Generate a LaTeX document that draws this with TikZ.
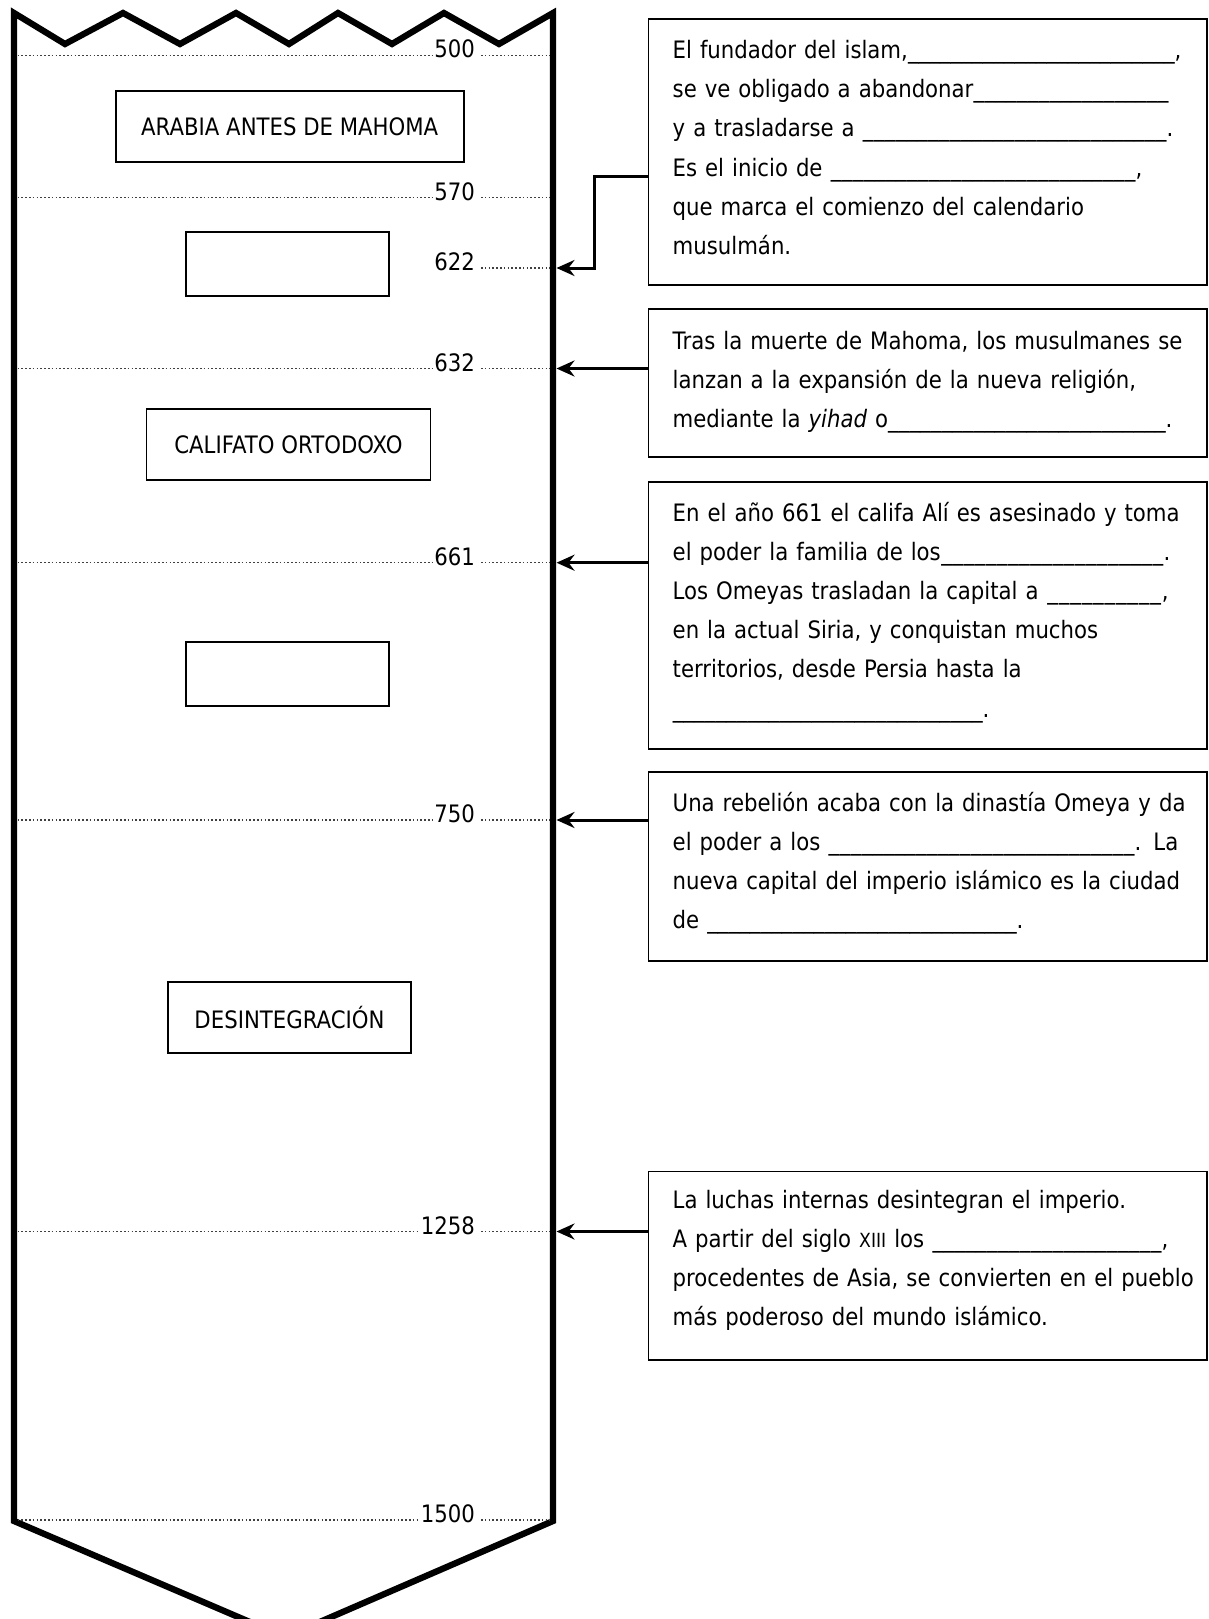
\documentclass[tikz,border=0pt]{standalone}
\usepackage{fontspec}
\setmainfont{DejaVu Sans}[FakeStretch=0.885]
\usetikzlibrary{arrows.meta}
\newcommand\fillto[2]{\makebox[#1][l]{#2\xleaders\hbox{\_}\hfill}}
\begin{document}
\begin{tikzpicture}[x=1pt,y=-1pt,
  border/.style={line width=6.3pt,line join=miter},
  dotline/.style={line width=1.2pt,black!75,dash pattern=on 1.6pt off 2.2pt},
  yr/.style={anchor=base east,inner xsep=2pt,inner ysep=0pt,font={\fontsize{24}{28}\selectfont}},
  lbox/.style={draw,line width=1.6pt,inner sep=0pt,font={\fontsize{24}{28}\selectfont}},
  tbox/.style={draw,line width=1.7pt,inner sep=0pt,minimum width=558.5pt},
  txt/.style={anchor=base west,inner sep=0pt,text width=600pt,align=left,font={\fontsize{24}{39.2}\selectfont}},
  conn/.style={line width=3pt,-{Stealth[length=18pt,width=16pt,inset=6pt]}}]
\useasboundingbox (0,0) rectangle (1209,1619);
\fill[white] (0,0) rectangle (1209,1619);
\clip (0,0) rectangle (1209,1619);

% timeline column
\draw[border] (14,13) -- (65,44) -- (123,13) -- (180,44) -- (236,13) -- (289,44)
  -- (338,13) -- (392,44) -- (444,13) -- (499,44) -- (553,13) -- (553,1521)
  -- (285,1637) -- (14,1521) -- cycle;

% year lines
\foreach \yr/\yy in {500/55.5,570/197.7,632/368.5,661/562.7,750/820,1258/1231.5,1500/1520}{
  \node[yr] (y\yr) at (477,\yy+2.5) {\yr};
  \coordinate (L\yr) at (17.5,\yy);
  \coordinate (R\yr) at (549.5,\yy);
  \draw[dotline] (L\yr) -- (L\yr -| y\yr.west);
  \draw[dotline] (R\yr -| y\yr.east) ++(4,0) -- (R\yr);
}
\node[yr] (y622) at (477,270.5) {622};
\coordinate (R622) at (549.5,268);
\draw[dotline] (R622 -| y622.east) ++(4,0) -- (R622);

% period boxes
\node[lbox,minimum width=348pt,minimum height=71pt] (arabia) at (289.7,126.5) {ARABIA ANTES DE MAHOMA};
\node[lbox,minimum width=203pt,minimum height=64pt] (empty1) at (287.5,264) {};
\node[lbox,minimum width=284pt,minimum height=71pt] (califato) at (288.5,444.5) {CALIFATO ORTODOXO};
\node[lbox,minimum width=203pt,minimum height=64pt] (empty2) at (287.5,674) {};
\node[lbox,minimum width=243pt,minimum height=71pt] (desint) at (289.5,1017.5) {DESINTEGRACIÓN};

% text boxes
\node[tbox,minimum height=266pt] (box1) at (927.75,152) {};
\node[tbox,minimum height=148pt] (box2) at (927.75,383) {};
\node[tbox,minimum height=267pt] (box3) at (927.75,615.5) {};
\node[tbox,minimum height=189pt] (box4) at (927.75,866.5) {};
\node[tbox,minimum height=188.5pt] (box5) at (927.75,1265.75) {};

\node[txt] (t1) at (672.5,58.5) {\fillto{502pt}{El fundador del islam,},\\
\fillto{496pt}{se ve obligado a abandonar}\\
\fillto{494pt}{y a trasladarse a\ }.\\
\fillto{463pt}{Es el inicio de\ },\\
que marca el comienzo del calendario\\
musulmán.};

\node[txt] (t2) at (672.5,349) {Tras la muerte de Mahoma, los musulmanes se\\
lanzan a la expansión de la nueva religión,\\
\fillto{493pt}{mediante la \textit{yihad} o}.};

\node[txt] (t3) at (672.5,521) {En el año 661 el califa Alí es asesinado y toma\\
\fillto{491pt}{el poder la familia de los}.\\
\fillto{489pt}{Los Omeyas trasladan la capital a\ },\\
en la actual Siria, y conquistan muchos\\
territorios, desde Persia hasta la\\
\fillto{310pt}{}.};

\node[txt] (t4) at (672.5,811) {Una rebelión acaba con la dinastía Omeya y da\\
\fillto{462pt}{el poder a los\ }. La\\
nueva capital del imperio islámico es la ciudad\\
\fillto{344pt}{de\ }.};

\node[txt] (t5) at (672.5,1208) {La luchas internas desintegran el imperio.\\
\fillto{489pt}{A partir del siglo {\fontsize{19.5}{20}\selectfont XIII} los\ },\\
procedentes de Asia, se convierten en el pueblo\\
más poderoso del mundo islámico.};

% connectors
\coordinate (t622) at (556.5,268);
\coordinate (t632) at (556.5,368.5);
\coordinate (t661) at (556.5,562.7);
\coordinate (t750) at (556.5,820);
\coordinate (t1258) at (556.5,1231.5);
\coordinate (j1) at (594,176);
\draw[conn] (box1.west |- j1) -- (j1) |- (t622);
\draw[conn] (box2.west |- t632) -- (t632);
\draw[conn] (box3.west |- t661) -- (t661);
\draw[conn] (box4.west |- t750) -- (t750);
\draw[conn] (box5.west |- t1258) -- (t1258);
\end{tikzpicture}
\end{document}
